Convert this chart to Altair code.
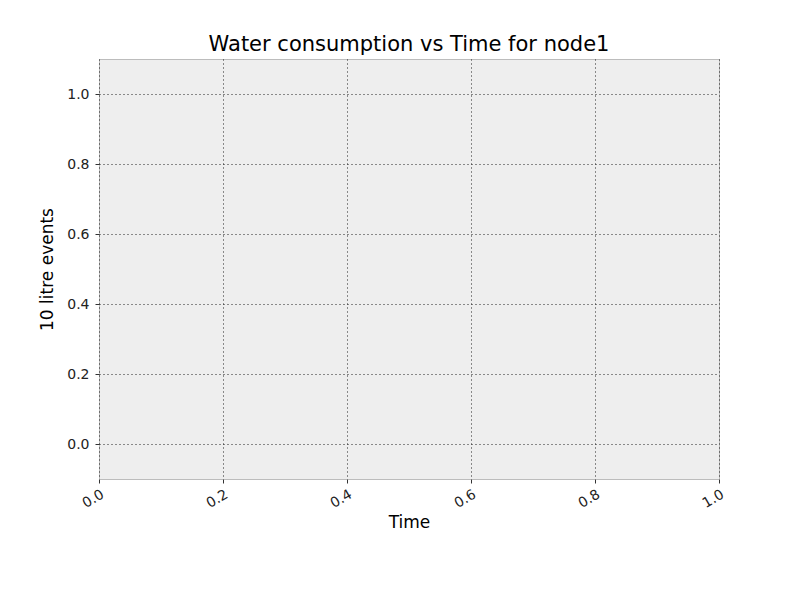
import altair as alt
import pandas as pd

# the reference has no data drawn, only the axes
x_ticks = [0.0, 0.2, 0.4, 0.6, 0.8, 1.0]
y_ticks = [0.0, 0.2, 0.4, 0.6, 0.8, 1.0]

df = pd.DataFrame({'x': x_ticks, 'y': y_ticks})

chart = alt.Chart(df).mark_point(opacity=0).encode(
    x=alt.X('x:Q', title='Time',
            scale=alt.Scale(domain=[0, 1], nice=False, zero=False),
            axis=alt.Axis(values=x_ticks, format='.1f', labelAngle=-30, labelAlign='right',
                          labelBaseline='top', labelPadding=4)),
    y=alt.Y('y:Q', title='10 litre events',
            scale=alt.Scale(domain=[-0.1, 1.1], nice=False, zero=False),
            axis=alt.Axis(values=y_ticks, format='.1f', labelPadding=6))
).properties(
    title='Water consumption vs Time for node1',
    width=620, height=420,
    autosize=alt.AutoSizeParams(type='none'),
    padding={'left': 91, 'top': 51, 'right': 70, 'bottom': 110},
    background='white'
).configure_view(
    fill='#eeeeee', stroke='#bcbcbc', strokeWidth=1
).configure_axis(
    grid=True, gridColor='#222222', gridDash=[1, 3], gridOpacity=1, gridWidth=1,
    domain=False, tickColor='#333333', tickSize=4,
    labelFont='DejaVu Sans', labelFontSize=14, labelColor='#222222',
    titleFont='DejaVu Sans', titleFontSize=17, titleFontWeight='normal', titleColor='black'
).configure_axisY(
    titlePadding=10
).configure_axisX(
    titlePadding=4
).configure_title(
    font='DejaVu Sans', fontSize=21, fontWeight='normal', offset=4
)

chart.save("out.html", embed_options={"renderer": "svg", "actions": False})
